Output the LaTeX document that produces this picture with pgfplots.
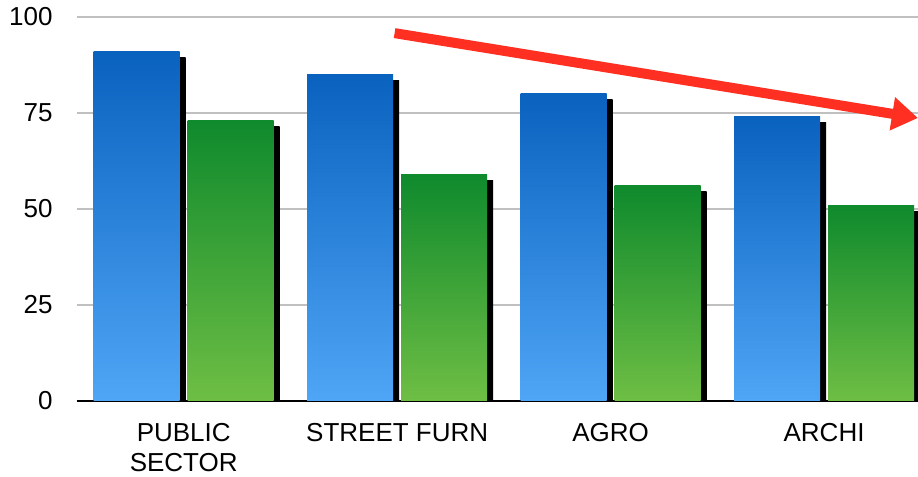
\documentclass[border=0pt]{standalone}
\usepackage{pgfplots}
\pgfplotsset{compat=1.18}
\usepackage{fontspec}
\setmainfont{Liberation Sans}
\usetikzlibrary{arrows.meta,shadows}

\definecolor{bluetop}{HTML}{0A62BF}
\definecolor{bluebot}{HTML}{4FA6F6}
\definecolor{greentop}{HTML}{0F8A2D}
\definecolor{greenbot}{HTML}{6EBE44}
\definecolor{gridgray}{HTML}{C0C0C0}
\definecolor{arrowred}{HTML}{FF3022}

\pgfplotsset{
  shadowed/.style={draw=none,
    preaction={draw=none, fill=black, top color=black, bottom color=black,
      transform canvas={xshift=3pt, yshift=-3pt}}},
  bluebar/.style={shadowed, bar shift=-23.5pt, top color=bluetop, bottom color=bluebot},
  greenbar/.style={shadowed, bar shift=23.5pt, top color=greentop, bottom color=greenbot},
}

\begin{document}
\begin{tikzpicture}
\begin{axis}[
  name=ax,
  scale only axis,
  width=420.5pt, height=192pt,
  ybar, bar width=43pt,
  xmin=-0.5, xmax=3.44,
  ymin=0, ymax=100,
  ytick={0,25,50,75,100},
  xtick={0,1,2,3},
  xticklabels={{PUBLIC\\SECTOR},{STREET FURN},AGRO,ARCHI},
  axis lines*=left,
  y axis line style={draw=none},
  x axis line style={black, line width=1pt, -},
  tick style={draw=none},
  ymajorgrids,
  grid style={gridgray, line width=1pt},
  /pgf/number format/assume math mode=true,
  ticklabel style={font=\fontsize{13}{15}\selectfont},
  yticklabel style={inner sep=0pt, anchor=east, xshift=-12pt},
  xticklabel style={align=center, inner sep=0pt, anchor=north, yshift=-6.5pt},
]
\addplot[bluebar]  coordinates {(0,91)};
\addplot[greenbar] coordinates {(0,73)};
\addplot[bluebar]  coordinates {(1,85)};
\addplot[greenbar] coordinates {(1,59)};
\addplot[bluebar]  coordinates {(2,80)};
\addplot[greenbar] coordinates {(2,56)};
\addplot[bluebar]  coordinates {(3,74)};
\addplot[greenbar] coordinates {(3,51)};
\coordinate (a0) at (axis cs:0.988,95.8);
\coordinate (a1) at (axis cs:3.44,73.7);
\end{axis}
\draw[arrowred, line width=5pt, -{Triangle[length=13pt, width=16pt]}] (a0) -- (a1);
\pgfresetboundingbox
\path[use as bounding box] ([shift={(-38.5pt,-38pt)}]ax.south west) rectangle ([shift={(0pt,8.5pt)}]ax.north east);
\end{tikzpicture}
\end{document}
